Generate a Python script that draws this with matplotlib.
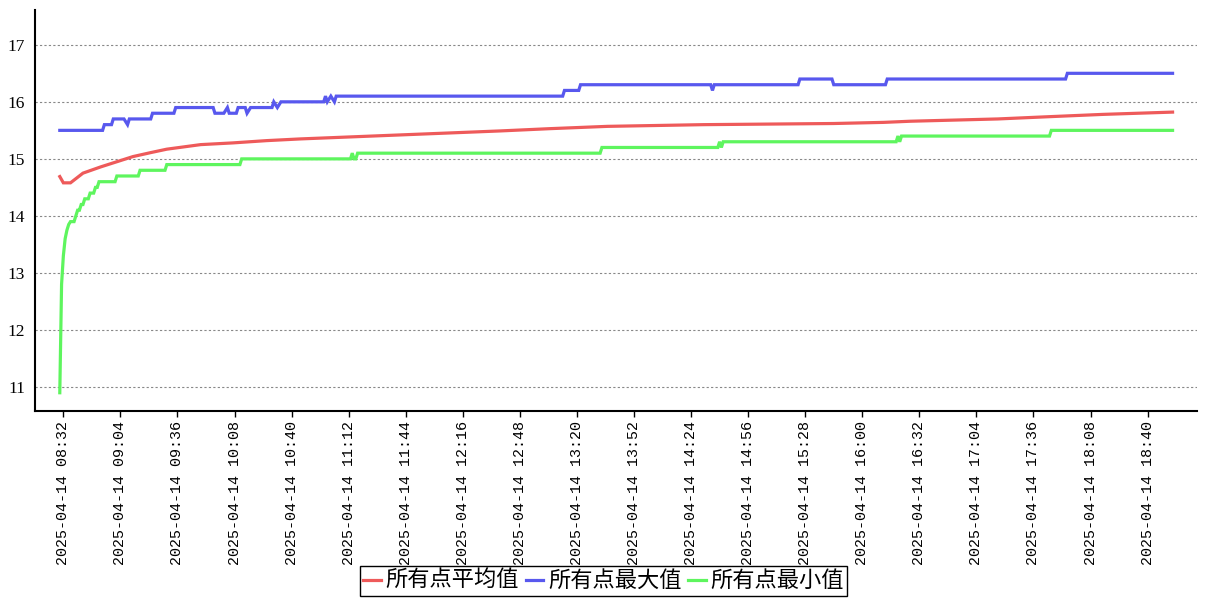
import matplotlib
matplotlib.use("Agg")
import matplotlib.pyplot as plt
from matplotlib.ticker import FixedLocator

# max of all points: (time, value)
max_times = ["08:30", "08:54", "08:55", "08:59", "09:00", "09:06", "09:08", "09:09",
             "09:21", "09:22", "09:34", "09:35", "09:56", "09:57", "10:02", "10:04",
             "10:05", "10:09", "10:10", "10:14", "10:15", "10:17", "10:29", "10:30",
             "10:32", "10:34", "10:58", "10:59", "11:00", "11:02", "11:04", "11:05",
             "13:12", "13:13", "13:21", "13:22", "14:35", "14:36", "14:37", "15:24",
             "15:25", "15:43", "15:44", "16:13", "16:14", "17:54", "17:55", "18:54"]
max_vals = [15.5, 15.5, 15.6, 15.6, 15.7, 15.7, 15.6, 15.7,
            15.7, 15.8, 15.8, 15.9, 15.9, 15.8, 15.8, 15.9,
            15.8, 15.8, 15.9, 15.9, 15.8, 15.9, 15.9, 16.0,
            15.9, 16.0, 16.0, 16.1, 16.0, 16.1, 16.0, 16.1,
            16.1, 16.2, 16.2, 16.3, 16.3, 16.2, 16.3, 16.3,
            16.4, 16.4, 16.3, 16.3, 16.4, 16.4, 16.5, 16.5]

# mean of all points
mean_times = ["08:30", "08:32", "08:36", "08:43", "08:53", "09:02", "09:11", "09:21",
              "09:30", "09:49", "10:07", "10:26", "10:45", "11:17", "11:41", "12:37",
              "13:05", "13:37", "14:31", "15:44", "16:12", "16:27", "17:16", "17:45",
              "18:15", "18:54"]
mean_vals = [14.69, 14.58, 14.58, 14.75, 14.86, 14.95, 15.04, 15.11,
             15.17, 15.25, 15.28, 15.32, 15.35, 15.39, 15.42, 15.49,
             15.53, 15.57, 15.60, 15.62, 15.64, 15.66, 15.70, 15.74,
             15.78, 15.82]

# min of all points
min_times = ["08:30", "08:31", "08:32", "08:33", "08:34", "08:35", "08:36", "08:38",
             "08:39", "08:40", "08:41", "08:42", "08:43", "08:44", "08:46", "08:47",
             "08:49", "08:50", "08:51", "08:52", "09:01", "09:02", "09:14", "09:15",
             "09:29", "09:30", "10:11", "10:12", "11:13", "11:14", "11:15", "11:16",
             "11:17", "13:33", "13:34", "14:39", "14:40", "14:41", "14:42", "16:19",
             "16:20", "16:21", "16:22", "17:45", "17:46", "18:54"]
min_vals = [10.9, 12.8, 13.3, 13.6, 13.75, 13.85, 13.9, 13.9,
            14.0, 14.1, 14.1, 14.2, 14.2, 14.3, 14.3, 14.4,
            14.4, 14.5, 14.5, 14.6, 14.6, 14.7, 14.7, 14.8,
            14.8, 14.9, 14.9, 15.0, 15.0, 15.1, 15.0, 15.0,
            15.1, 15.1, 15.2, 15.2, 15.3, 15.2, 15.3, 15.3,
            15.4, 15.3, 15.4, 15.4, 15.5, 15.5]

tick_labels = ["08:32", "09:04", "09:36", "10:08", "10:40", "11:12", "11:44", "12:16",
               "12:48", "13:20", "13:52", "14:24", "14:56", "15:28", "16:00", "16:32",
               "17:04", "17:36", "18:08", "18:40"]
date = "2025-04-14"
labels = ["所有点平均值", "所有点最大值", "所有点最小值"]
colors = ["#ee5a5a", "#5858ee", "#5ef55e"]


def to_min(ts):
    return [int(s[:2]) * 60 + int(s[3:]) for s in ts]


fig = plt.figure(figsize=(12.07, 6.0), dpi=100)
ax = fig.add_axes([35 / 1207, 1 - 411 / 600, 1162 / 1207, 401 / 600])

series = [(mean_times, mean_vals), (max_times, max_vals), (min_times, min_vals)]
handles = []
for (ts, vs), c, lab in zip(series, colors, labels):
    h, = ax.plot(to_min(ts), vs, color=c, lw=2.3, label=lab, solid_joinstyle="miter")
    handles.append(h)

ax.set_xlim(496.1, 1147.7)
ax.set_ylim(10.58, 17.61)
ax.xaxis.set_major_locator(FixedLocator(to_min(tick_labels)))
ax.set_xticklabels([f"{date} {t}" for t in tick_labels], rotation=90,
                   family="Liberation Mono", fontsize=10.8)
ax.set_yticks([11, 12, 13, 14, 15, 16, 17])
ax.set_yticklabels(["11", "12", "13", "14", "15", "16", "17"],
                   family="Liberation Serif", fontsize=12.5)
ax.tick_params(axis="y", length=0, pad=7)
ax.tick_params(axis="x", length=4, width=1, pad=3)
ax.grid(axis="y", color="#888888", ls=(0, (2, 2)), lw=0.8)
for s in ["top", "right"]:
    ax.spines[s].set_visible(False)
ax.spines["left"].set_linewidth(1.5)
ax.spines["bottom"].set_linewidth(1.5)

leg = fig.legend(handles=handles, loc="center", bbox_to_anchor=(0.5, 0.032), ncol=3,
                 prop={"family": ["Noto Sans CJK SC", "DejaVu Sans"], "size": 16},
                 handlelength=0.8, handletextpad=0.2, columnspacing=0.3,
                 borderpad=0.15, borderaxespad=0, fancybox=False, framealpha=1,
                 edgecolor="black")
leg.get_frame().set_linewidth(1.0)

fig.savefig("out.png", dpi=100)
